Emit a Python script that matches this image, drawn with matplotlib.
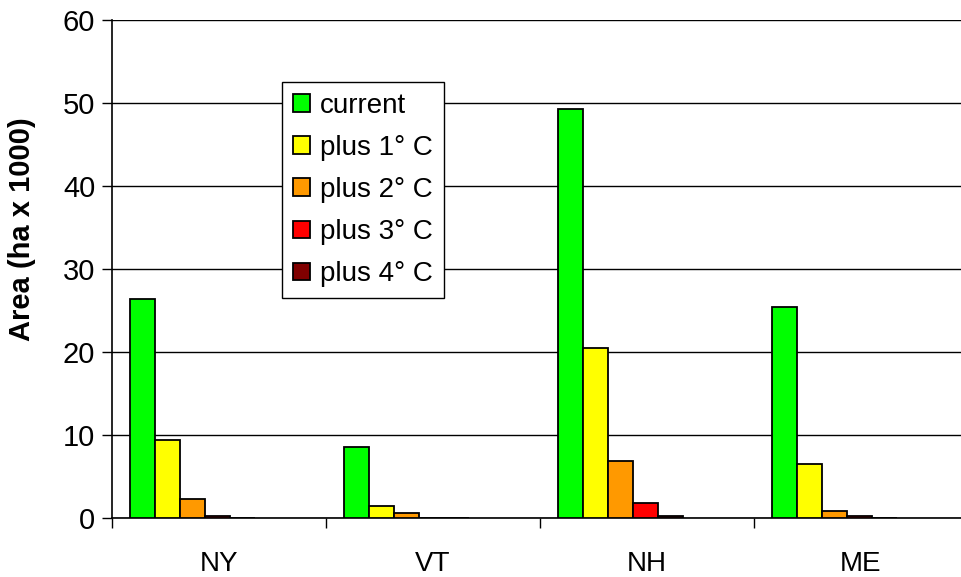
import matplotlib
matplotlib.use("Agg")
import matplotlib.pyplot as plt
import numpy as np

states = ["NY", "VT", "NH", "ME"]
series = ["current", "plus 1° C", "plus 2° C", "plus 3° C", "plus 4° C"]
current = [26.4, 8.6, 49.3, 25.4]
plus1 = [9.4, 1.4, 20.5, 6.5]
plus2 = [2.3, 0.6, 6.9, 0.8]
plus3 = [0.2, 0.0, 1.8, 0.2]
plus4 = [0.0, 0.0, 0.2, 0.0]
values = [current, plus1, plus2, plus3, plus4]
colors = ["#00FF00", "#FFFF00", "#FF9900", "#FF0000", "#800000"]
yticks = [0, 10, 20, 30, 40, 50, 60]

plt.rcParams['font.family'] = ['Liberation Sans', 'DejaVu Sans']

fig = plt.figure(figsize=(9.61, 5.77), dpi=100)
W, H = 961, 577
left, right = 112, 112 + 856
top, bottom = 20, 518
ax = fig.add_axes([left / W, (H - bottom) / H, (right - left) / W, (bottom - top) / H])

offset = 18 / 214
bw = 25 / 214
idx = np.arange(len(states))
for k, (name, vals, c) in enumerate(zip(series, values, colors)):
    x = idx + offset + k * bw
    ax.bar(x, vals, width=bw, align='edge', color=c, edgecolor='black',
           linewidth=1.3, label=name, zorder=3)

ax.set_xlim(0, 4)
ax.set_ylim(0, 60)
ax.set_yticks(yticks)
ax.set_yticklabels([str(v) for v in yticks], fontsize=21)
ax.yaxis.grid(True, color='black', linewidth=1.0, zorder=0)
ax.set_axisbelow(True)

ax.set_xticks(np.arange(0, 5))
ax.set_xticklabels([])
ax.set_xticks(idx + 0.5, minor=True)
ax.set_xticklabels(states, minor=True, fontsize=20)
ax.tick_params(axis='x', which='minor', length=0, pad=24)
ax.tick_params(axis='x', which='major', length=7, width=1, direction='out')
ax.tick_params(axis='y', length=7, width=1, direction='out', pad=5)

for s in ['top', 'right']:
    ax.spines[s].set_visible(False)
ax.spines['left'].set_linewidth(1.2)
ax.spines['bottom'].set_linewidth(1.2)

ax.set_ylabel("Area (ha x 1000)", fontsize=21, fontweight='bold')
ax.yaxis.set_label_coords(-0.089, 0.58)

leg = ax.legend(loc='upper left', bbox_to_anchor=(0.199, 0.876), fontsize=20,
                frameon=True, fancybox=False, edgecolor='black', framealpha=1,
                handlelength=0.6, handleheight=0.6, handletextpad=0.36,
                labelspacing=0.58, borderpad=0.4, borderaxespad=0)
leg.get_frame().set_linewidth(1.0)
leg.set_zorder(5)

fig.savefig("out.png", dpi=100)
